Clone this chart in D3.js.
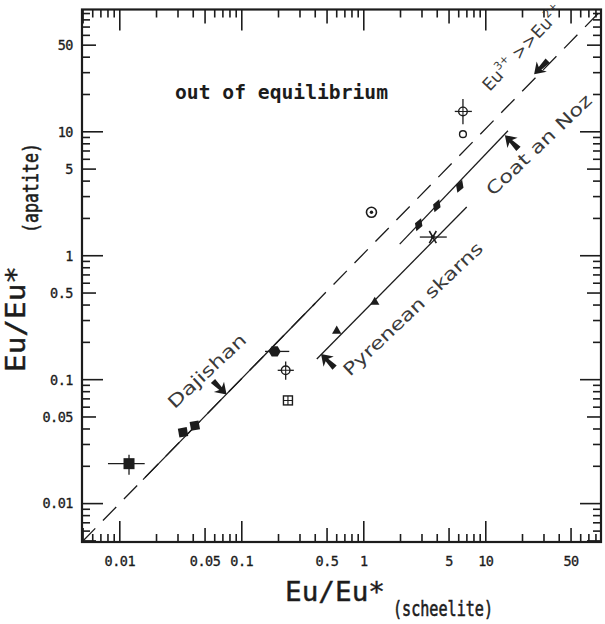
<!DOCTYPE html>
<html><head><meta charset="utf-8">
<script src="https://cdn.jsdelivr.net/npm/d3@7/dist/d3.min.js"></script>
<style>body{margin:0;background:#fff}svg{display:block}</style>
</head><body>
<svg id="c" width="605" height="624"></svg>
<script>
// ---------- data ----------
const xDomain = [0.0049, 88];
const yDomain = [0.0049, 97];
const xTickLabels = [0.01, 0.05, 0.1, 0.5, 1, 5, 10, 50];
const yTickLabels = [0.01, 0.05, 0.1, 0.5, 1, 5, 10, 50];

// Dajishan (filled squares)
const squareX = [0.0119, 0.033, 0.0412];
const squareY = [0.021, 0.0376, 0.0426];
// filled hexagon
const hexX = [0.186];
const hexY = [0.169];
// circle with cross
const crossCircleX = [0.229, 6.5];
const crossCircleY = [0.119, 14.6];
// square with plus
const boxPlusX = [0.239];
const boxPlusY = [0.068];
// circle with dot
const dotCircleX = [1.156];
const dotCircleY = [2.24];
// open circle
const openCircleX = [6.5];
const openCircleY = [9.57];
// Coat an Noz (filled diamonds)
const diamondX = [2.82, 3.97, 6.12];
const diamondY = [1.78, 2.53, 3.63];
// Pyrenean skarns (triangles, star)
const triangleX = [0.60, 1.23];
const triangleY = [0.247, 0.423];
const starX = [3.68];
const starY = [1.415];

// error bars
const errX  = [0.0119, 0.186, 0.229, 6.5, 3.68];
const errY  = [0.021, 0.169, 0.119, 14.6, 1.415];
const errXlo = [0.0080, 0.155, 0.197, 5.57, 2.88];
const errXhi = [0.0160, 0.245, 0.267, 7.69, 4.79];
const errYlo = [0.0171, null, 0.100, 11.5, null];
const errYhi = [0.0248, null, 0.140, 18.4, null];

// lines
const equalityLine = [[0.0049, 0.0049], [88, 95]];
const dajishanLine = [[0.0155, 0.0156], [0.40, 0.414]];
const coatLine = [[1.97, 1.24], [15.2, 10.2]];
const pyreneanLine = [[0.412, 0.147], [6.98, 2.47]];

// arrows (direction in screen degrees: 45 = down-right, 225 = up-left, 135 = down-left)
const arrowX = [0.066, 0.507, 16.3, 28.3];
const arrowY = [0.086, 0.142, 8.27, 33];
const arrowDir = [45, 225, 225, 135];

// ---------- drawing ----------
const svg = d3.select("#c");
const L = 82, R = 601, T = 9.5, B = 542;
const x = d3.scaleLog().domain(xDomain).range([L, R]);
const y = d3.scaleLog().domain(yDomain).range([B, T]);
const ink = "#1c1c1c";
const mono = "'DejaVu Sans Mono', monospace";

// ticks
function tickVals(dom) {
  const out = [];
  for (let e = -3; e <= 2; e++) {
    for (let m = 1; m <= 9; m++) {
      const v = m * Math.pow(10, e);
      if (v >= dom[0] && v <= dom[1]) out.push({v, m});
    }
  }
  return out;
}
const tlen = m => m === 1 ? 21 : (m === 5 ? 14 : 8);
const gT = svg.append("g").attr("stroke", ink).attr("stroke-width", 1.6);
tickVals(xDomain).forEach(t => {
  const px = x(t.v);
  gT.append("line").attr("x1", px).attr("x2", px).attr("y1", B).attr("y2", B - tlen(t.m));
  gT.append("line").attr("x1", px).attr("x2", px).attr("y1", T).attr("y2", T + tlen(t.m));
});
tickVals(yDomain).forEach(t => {
  const py = y(t.v);
  gT.append("line").attr("y1", py).attr("y2", py).attr("x1", L).attr("x2", L + tlen(t.m));
  gT.append("line").attr("y1", py).attr("y2", py).attr("x1", R).attr("x2", R - tlen(t.m));
});
// frame
svg.append("rect").attr("x", L).attr("y", T).attr("width", R - L).attr("height", B - T)
  .attr("fill", "none").attr("stroke", ink).attr("stroke-width", 2.2);

// tick labels
const fmt = v => String(v);
svg.append("g").selectAll("text").data(xTickLabels).join("text")
  .attr("x", d => x(d)).attr("y", 566).attr("text-anchor", "middle")
  .attr("font-family", mono).attr("font-size", 13.5).attr("letter-spacing", -0.5)
  .attr("fill", ink).attr("stroke", ink).attr("stroke-width", 0.3).text(fmt);
svg.append("g").selectAll("text").data(yTickLabels).join("text")
  .attr("x", 73).attr("y", d => y(d)).attr("dy", "0.36em").attr("text-anchor", "end")
  .attr("font-family", mono).attr("font-size", 13.5).attr("letter-spacing", -0.5)
  .attr("fill", ink).attr("stroke", ink).attr("stroke-width", 0.3).text(fmt);

// axis titles
function title(txt, tx, ty, rot, fs, len, sw) {
  svg.append("text").attr("transform", `translate(${tx},${ty}) rotate(${rot})`)
    .attr("font-family", mono).attr("font-size", fs).attr("fill", ink)
    .attr("stroke", ink).attr("stroke-width", sw)
    .attr("textLength", len).attr("lengthAdjust", "spacingAndGlyphs").text(txt);
}
title("Eu/Eu*", 25, 372, -90, 26, 106, 0.4);
title("(apatite)", 38, 233, -90, 20.5, 90, 0.6);
title("Eu/Eu*", 285, 601, 0, 26, 100, 0.4);
title("(scheelite)", 393, 616, 0, 20.5, 100, 0.6);

// lines
const line = d3.line().x(d => x(d[0])).y(d => y(d[1]));
svg.append("clipPath").attr("id", "pc").append("rect")
  .attr("x", L).attr("y", T).attr("width", R - L).attr("height", B - T);
const gL = svg.append("g").attr("clip-path", "url(#pc)").attr("fill", "none").attr("stroke", ink);
gL.append("path").datum(equalityLine).attr("d", line).attr("stroke-width", 1.3)
  .attr("stroke-dasharray", "19,11");
[dajishanLine, coatLine, pyreneanLine].forEach(l =>
  gL.append("path").datum(l).attr("d", line).attr("stroke-width", 1.3));

// error bars
const gE = svg.append("g").attr("stroke", ink).attr("stroke-width", 1.3);
errX.forEach((xv, i) => {
  gE.append("line").attr("x1", x(errXlo[i])).attr("x2", x(errXhi[i]))
    .attr("y1", y(errY[i])).attr("y2", y(errY[i]));
  if (errYlo[i] != null)
    gE.append("line").attr("x1", x(xv)).attr("x2", x(xv))
      .attr("y1", y(errYlo[i])).attr("y2", y(errYhi[i]));
});

const gS = svg.append("g");
// squares
squareX.forEach((xv, i) => {
  const s = i === 0 ? 11 : 9;
  gS.append("rect").attr("x", x(xv) - s / 2).attr("y", y(squareY[i]) - s / 2)
    .attr("width", s).attr("height", s).attr("fill", ink)
    .attr("transform", i === 0 ? null : `rotate(-10,${x(xv)},${y(squareY[i])})`);
});
// hexagon
hexX.forEach((xv, i) => {
  const cx = x(xv), cy = y(hexY[i]), r = 6;
  const pts = d3.range(6).map(k => [cx + r * Math.cos(Math.PI / 3 * k), cy + r * Math.sin(Math.PI / 3 * k)]);
  gS.append("polygon").attr("points", pts.map(p => p.join(",")).join(" ")).attr("fill", ink);
});
// circle with cross
crossCircleX.forEach((xv, i) => {
  gS.append("circle").attr("cx", x(xv)).attr("cy", y(crossCircleY[i])).attr("r", 4.3)
    .attr("fill", "#fff").attr("stroke", ink).attr("stroke-width", 1.4);
  gS.append("path").attr("d", `M${x(xv) - 4.3},${y(crossCircleY[i])}h8.6M${x(xv)},${y(crossCircleY[i]) - 4.3}v8.6`)
    .attr("stroke", ink).attr("stroke-width", 1.1);
});
// box with plus
boxPlusX.forEach((xv, i) => {
  const cx = x(xv), cy = y(boxPlusY[i]);
  gS.append("rect").attr("x", cx - 4.5).attr("y", cy - 4.5).attr("width", 9).attr("height", 9)
    .attr("fill", "#fff").attr("stroke", ink).attr("stroke-width", 1.4);
  gS.append("path").attr("d", `M${cx - 4.5},${cy}h9M${cx},${cy - 4.5}v9`).attr("stroke", ink).attr("stroke-width", 1.1);
});
// circle with dot
dotCircleX.forEach((xv, i) => {
  gS.append("circle").attr("cx", x(xv)).attr("cy", y(dotCircleY[i])).attr("r", 5)
    .attr("fill", "#fff").attr("stroke", ink).attr("stroke-width", 1.6);
  gS.append("circle").attr("cx", x(xv)).attr("cy", y(dotCircleY[i])).attr("r", 1.7).attr("fill", ink);
});
// open circle
openCircleX.forEach((xv, i) => {
  gS.append("circle").attr("cx", x(xv)).attr("cy", y(openCircleY[i])).attr("r", 3.4)
    .attr("fill", "#fff").attr("stroke", ink).attr("stroke-width", 1.4);
});
// diamonds
diamondX.forEach((xv, i) => {
  gS.append("path").attr("d", d3.symbol(d3.symbolDiamond, 55)())
    .attr("transform", `translate(${x(xv)},${y(diamondY[i])}) rotate(20)`).attr("fill", ink);
});
// triangles
triangleX.forEach((xv, i) => {
  gS.append("path").attr("d", d3.symbol(d3.symbolTriangle, 38)())
    .attr("transform", `translate(${x(xv)},${y(triangleY[i])})`).attr("fill", ink);
});
// star
starX.forEach((xv, i) => {
  const cx = x(xv), cy = y(starY[i]);
  let d = "";
  [60, 120].forEach(a => {
    const dx = 7 * Math.cos(a * Math.PI / 180), dy = 7 * Math.sin(a * Math.PI / 180);
    d += `M${cx - dx},${cy - dy}L${cx + dx},${cy + dy}`;
  });
  gS.append("path").attr("d", d).attr("stroke", ink).attr("stroke-width", 1.6);
  gS.append("circle").attr("cx", cx).attr("cy", cy).attr("r", 2).attr("fill", ink);
});
// arrows (tip at +x, then rotated)
arrowX.forEach((xv, i) => {
  gS.append("path")
    .attr("d", "M8,0 L-1,-6 L1,-1.5 L-8,-2.5 L-8,2.5 L1,1.5 L-1,6 Z")
    .attr("transform", `translate(${x(xv)},${y(arrowY[i])}) rotate(${arrowDir[i]}) scale(1.2)`)
    .attr("fill", ink);
});

// annotations
svg.append("text").attr("x", 175).attr("y", 99).attr("font-family", mono)
  .attr("font-weight", "bold").attr("font-size", 20).attr("textLength", 213)
  .attr("lengthAdjust", "spacingAndGlyphs").attr("fill", ink).text("out of equilibrium");

function rotLabel(txt, cx, cy, ang, len, fs) {
  svg.append("text").attr("transform", `translate(${cx},${cy}) rotate(${ang})`)
    .attr("text-anchor", "middle").attr("dominant-baseline", "central")
    .attr("font-family", "'DejaVu Sans', sans-serif").attr("font-size", fs)
    .attr("textLength", len).attr("lengthAdjust", "spacingAndGlyphs")
    .attr("fill", "#3a3a3a").text(txt);
}
rotLabel("Dajishan", 207, 371, -43, 100, 17.5);
rotLabel("Pyrenean skarns", 413, 309, -43.5, 185, 17.5);
rotLabel("Coat an Noz", 539, 145, -43.5, 138, 17.5);

const eu = svg.append("text").attr("transform", "translate(527,52) rotate(-47)")
  .attr("text-anchor", "middle").attr("font-family", "'DejaVu Sans', sans-serif")
  .attr("font-size", 17).attr("fill", "#3a3a3a");
eu.append("tspan").text("Eu");
eu.append("tspan").attr("font-size", 11).attr("dy", -8).text("3+");
eu.append("tspan").attr("dy", 8).text(" >>Eu");
eu.append("tspan").attr("font-size", 11).attr("dy", -8).text("2+");
</script>
</body></html>
